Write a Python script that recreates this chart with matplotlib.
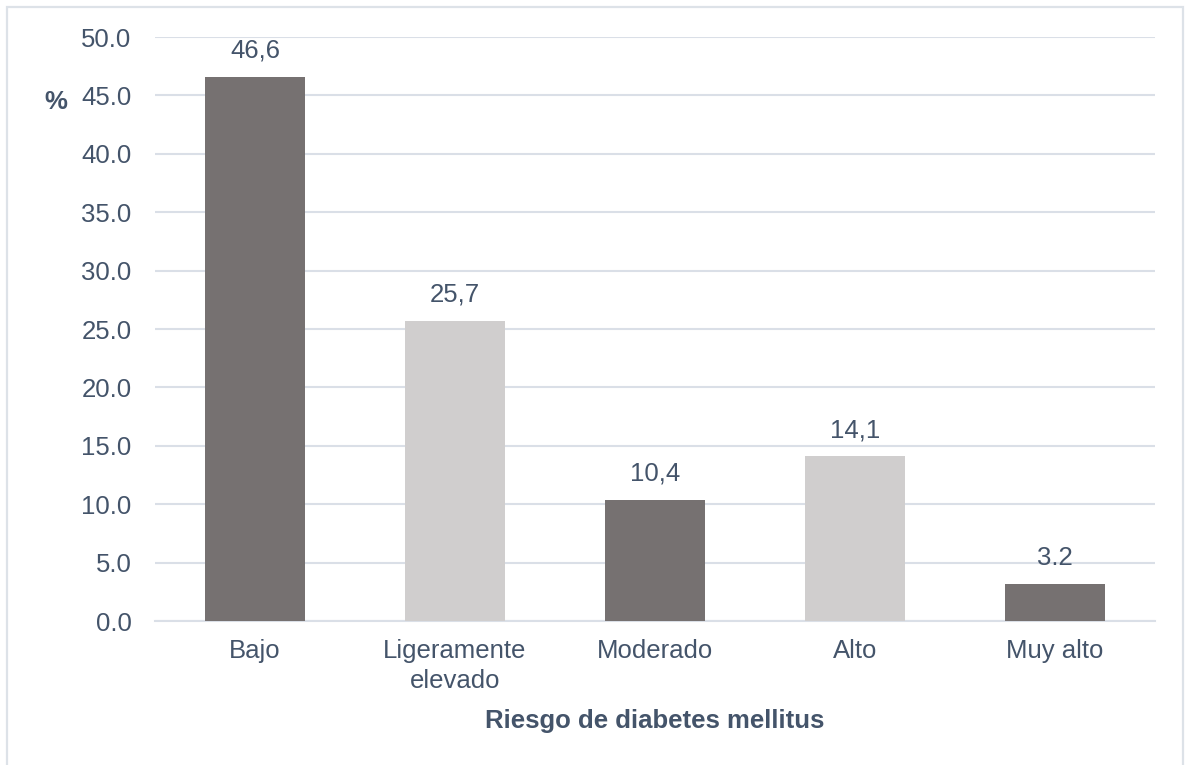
import matplotlib.pyplot as plt
from matplotlib.patches import Rectangle

plt.rcParams['font.family'] = ['Liberation Sans', 'DejaVu Sans']

categories = ["Bajo", "Ligeramente\nelevado", "Moderado", "Alto", "Muy alto"]
values = [46.6, 25.7, 10.4, 14.1, 3.2]
value_labels = ["46,6", "25,7", "10,4", "14,1", "3.2"]
bar_colors = ["#767171", "#d0cece", "#767171", "#d0cece", "#767171"]
yticks = [0, 5, 10, 15, 20, 25, 30, 35, 40, 45, 50]

text_color = "#44546a"
grid_color = "#dadfe7"
fs = 18.5

fig = plt.figure(figsize=(11.87, 7.65), dpi=100)
ax = fig.add_axes([0.1306, 0.1882, 0.8424, 0.7634])

x = range(len(categories))
bars = ax.bar(x, values, width=0.5, color=bar_colors, zorder=3)

for b, lab in zip(bars, value_labels):
    ax.annotate(lab, (b.get_x() + b.get_width() / 2, b.get_height()),
                xytext=(0, 10), textcoords="offset points",
                ha="center", va="bottom", fontsize=fs, color=text_color)

ax.set_xlim(-0.5, len(categories) - 0.5)
ax.set_ylim(0, 50)
ax.set_yticks(yticks)
ax.set_yticklabels([f"{v:.1f}" for v in yticks])
ax.set_xticks(list(x))
ax.set_xticklabels(categories, linespacing=1.3)
ax.tick_params(axis="both", length=0, labelsize=fs, labelcolor=text_color)
ax.tick_params(axis="y", pad=17)
ax.tick_params(axis="x", pad=13)

ax.yaxis.grid(True, color=grid_color, linewidth=1.5, zorder=0)
ax.set_axisbelow(True)
for s in ["top", "right", "left"]:
    ax.spines[s].set_visible(False)
ax.spines["bottom"].set_color(grid_color)
ax.spines["bottom"].set_linewidth(1.5)

ax.set_xlabel("Riesgo de diabetes mellitus", fontsize=fs, fontweight="bold",
              color=text_color, labelpad=12)
fig.text(56 / 1187, 1 - 102 / 765, "%", fontsize=fs, fontweight="bold",
         color=text_color, ha="center", va="center")

# light frame around the figure
fig.patches.append(Rectangle((7 / 1187, -0.01), 1176 / 1187, 1 - 7 / 765 + 0.01,
                             transform=fig.transFigure, fill=False,
                             edgecolor="#dde2e8", linewidth=1.6))

fig.savefig("out.png", dpi=100)
